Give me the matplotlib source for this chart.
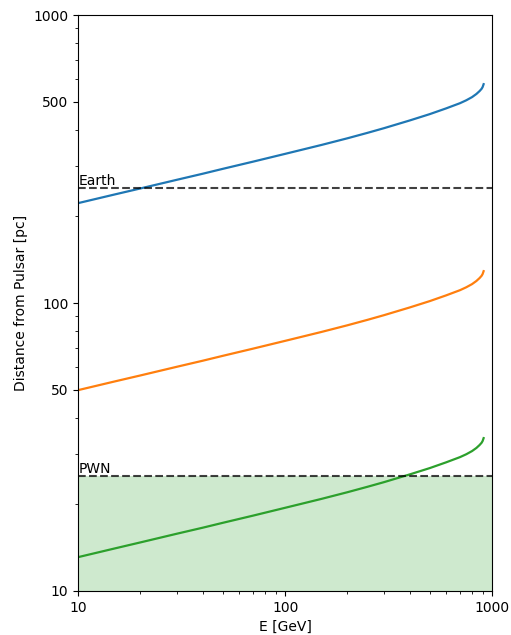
import numpy as np
import matplotlib
matplotlib.use('Agg')
import matplotlib.pyplot as plt
from matplotlib.ticker import FixedLocator, FormatStrFormatter, NullFormatter

# energies [GeV]
energy = [10, 15, 20, 30, 40, 50, 70, 100, 150, 200, 250, 300, 400, 500,
          600, 700, 750, 800, 840, 870, 890, 900, 910]
# distance from pulsar [pc] for the three curves
dist_blue = [222.3, 238.2, 250.0, 267.9, 281.2, 292.4, 309.7, 329.6, 354.0, 373.3,
             389.9, 404.6, 430.5, 452.9, 474.2, 494.3, 505.8, 518.8, 532.1, 544.5,
             554.6, 562.3, 575.4]
dist_orange = [49.84, 53.41, 56.05, 60.07, 63.05, 65.56, 69.44, 73.90, 79.37, 83.70,
               87.42, 90.72, 96.52, 101.55, 106.32, 110.83, 113.41, 116.32, 119.30, 122.09,
               124.35, 126.08, 129.01]
dist_green = [13.11, 14.05, 14.75, 15.81, 16.59, 17.25, 18.27, 19.45, 20.89, 22.03,
              23.01, 23.87, 25.40, 26.72, 27.98, 29.17, 29.84, 30.61, 31.39, 32.13,
              32.72, 33.18, 33.95]

d_earth = 250
d_pwn = 25
yticks = [10, 50, 100, 500, 1000]

fig = plt.figure(figsize=(5.11, 6.35), dpi=100)
ax = fig.add_axes([0.153, 0.0693, 0.81, 0.907])

ax.plot(energy, dist_blue, color='C0', lw=1.6)
ax.plot(energy, dist_orange, color='C1', lw=1.6)
ax.plot(energy, dist_green, color='C2', lw=1.6)

# Earth / PWN
ax.axhline(d_earth, color='k', ls='--', alpha=0.75, lw=1.5)
ax.axhline(d_pwn, color='k', ls='--', alpha=0.75, lw=1.5)
ax.axhspan(10, d_pwn, color='C2', alpha=0.23, lw=0)
ax.text(10, d_earth, 'Earth', ha='left', va='bottom', fontsize=10)
ax.text(10, d_pwn, 'PWN', ha='left', va='bottom', fontsize=10)

ax.set_xscale('log')
ax.set_yscale('log')
ax.set_xlim(10, 1000)
ax.set_ylim(10, 1000)
ax.yaxis.set_major_locator(FixedLocator(yticks))
ax.yaxis.set_major_formatter(FormatStrFormatter('%d'))
ax.yaxis.set_minor_formatter(NullFormatter())
ax.xaxis.set_major_formatter(FormatStrFormatter('%d'))

ax.set_xlabel('E [GeV]')
ax.set_ylabel('Distance from Pulsar [pc]')

plt.savefig('out.png', dpi=100)
